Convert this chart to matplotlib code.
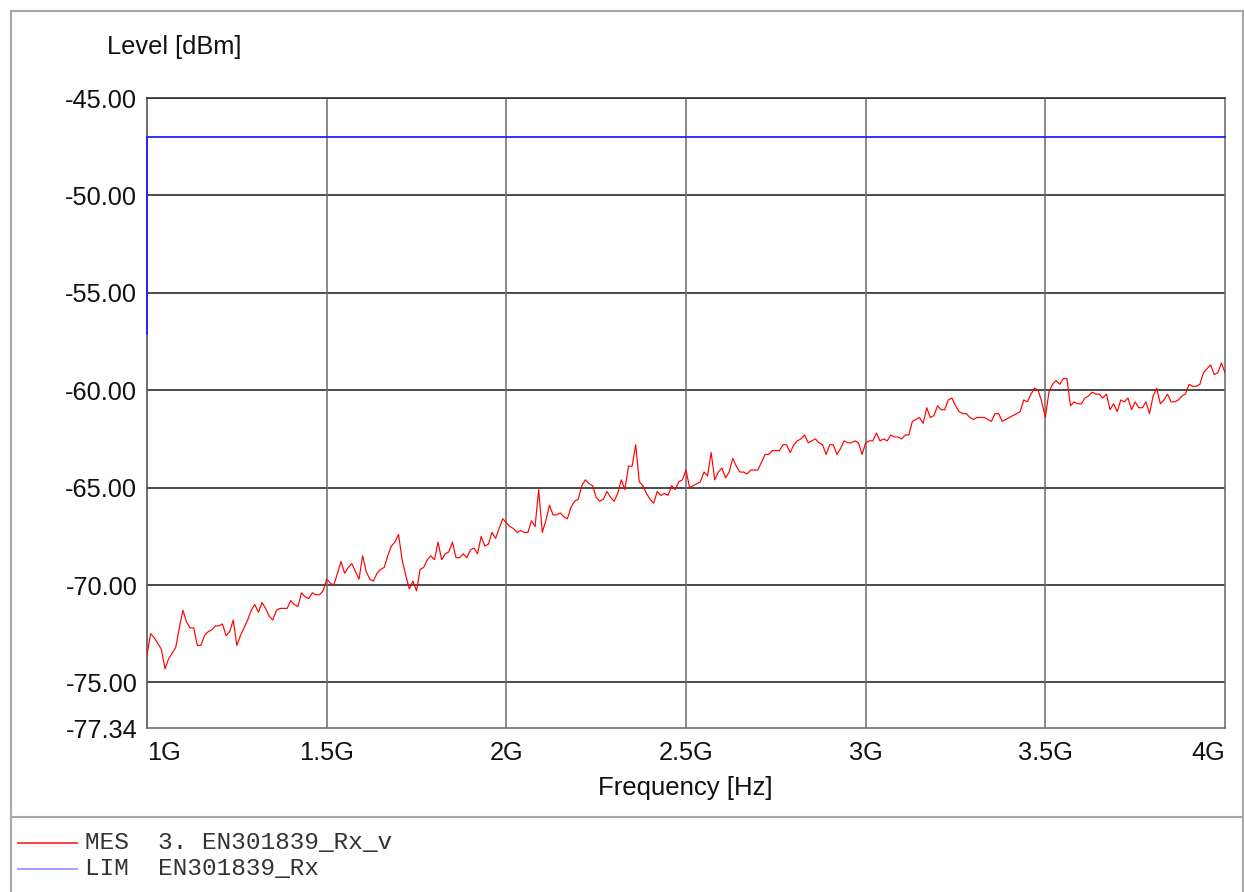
import matplotlib
matplotlib.use("Agg")
import matplotlib.pyplot as plt
import numpy as np
from matplotlib.lines import Line2D

# sweep: 1 GHz .. 4 GHz, 301 points (0.01 GHz step)
f_start_ghz = 1.0
f_stop_ghz = 4.0
n_points = 301

mes_level = [
    -73.6, -72.5, -72.7, -73.0, -73.3, -74.3, -73.8, -73.5, -73.2, -72.2,
    -71.3, -71.9, -72.2, -72.2, -73.1, -73.1, -72.6, -72.4, -72.3, -72.1,
    -72.1, -72.0, -72.6, -72.4, -71.8, -73.1, -72.6, -72.2, -71.8, -71.3,
    -71.0, -71.4, -70.9, -71.2, -71.6, -71.8, -71.3, -71.2, -71.2, -71.2,
    -70.8, -71.0, -71.1, -70.4, -70.6, -70.7, -70.4, -70.5, -70.5, -70.3,
    -69.7, -69.9, -70.0, -69.4, -68.8, -69.4, -69.1, -68.9, -69.3, -69.7,
    -68.5, -69.3, -69.7, -69.8, -69.4, -69.2, -69.1, -68.5, -68.0, -67.8,
    -67.4, -68.7, -69.5, -70.2, -69.8, -70.3, -69.2, -69.1, -68.7, -68.5,
    -68.7, -67.8, -68.7, -68.4, -68.3, -67.8, -68.6, -68.6, -68.4, -68.6,
    -68.2, -68.1, -68.4, -67.5, -68.0, -67.9, -67.3, -67.6, -67.1, -66.6,
    -66.8, -67.0, -67.1, -67.3, -67.2, -67.3, -67.3, -66.7, -67.0, -65.1,
    -67.3, -66.7, -65.9, -66.4, -66.4, -66.3, -66.5, -66.6, -66.0, -65.7,
    -65.6, -64.9, -64.6, -64.8, -64.9, -65.5, -65.7, -65.6, -65.2, -65.5,
    -65.7, -65.3, -64.6, -65.1, -63.9, -63.9, -62.8, -64.7, -64.9, -65.3,
    -65.6, -65.8, -65.2, -65.4, -65.3, -65.4, -64.9, -65.1, -64.7, -64.6,
    -64.1, -65.0, -64.9, -64.8, -64.7, -64.2, -64.4, -63.2, -64.6, -64.2,
    -64.0, -64.5, -64.2, -63.5, -63.9, -64.2, -64.2, -64.3, -64.1, -64.1,
    -64.1, -63.7, -63.3, -63.3, -63.1, -63.1, -63.1, -62.8, -62.8, -63.2,
    -62.8, -62.6, -62.5, -62.3, -62.7, -62.6, -62.5, -62.7, -62.8, -63.3,
    -62.8, -62.8, -63.3, -63.0, -62.6, -62.7, -62.7, -62.6, -62.7, -63.3,
    -62.7, -62.6, -62.6, -62.2, -62.6, -62.5, -62.6, -62.3, -62.4, -62.4,
    -62.5, -62.3, -62.3, -61.6, -61.5, -61.4, -61.7, -60.9, -61.4, -61.3,
    -60.8, -61.0, -61.0, -60.5, -60.4, -60.8, -61.1, -61.2, -61.2, -61.4,
    -61.5, -61.4, -61.4, -61.4, -61.5, -61.6, -61.2, -61.2, -61.6, -61.5,
    -61.4, -61.3, -61.2, -61.1, -60.5, -60.6, -60.2, -59.9, -60.0, -60.6,
    -61.4, -60.1, -59.7, -59.5, -59.7, -59.4, -59.4, -60.8, -60.6, -60.7,
    -60.7, -60.4, -60.3, -60.1, -60.2, -60.2, -60.4, -60.2, -61.0, -60.7,
    -61.1, -60.5, -60.6, -60.4, -61.0, -60.6, -60.9, -60.9, -60.6, -61.2,
    -60.3, -59.9, -60.7, -60.5, -60.2, -60.6, -60.6, -60.5, -60.3, -60.2,
    -59.7, -59.8, -59.8, -59.7, -59.1, -58.9, -58.7, -59.2, -59.1, -58.6,
    -59.1,
]

# limit line (LIM EN301839_Rx)
lim_freq_ghz = [1.0, 1.0, 4.0]
lim_level = [-57.1, -47.0, -47.0]

y_ticks = [-45.0, -50.0, -55.0, -60.0, -65.0, -70.0, -75.0, -77.34]
x_ticks_ghz = [1.0, 1.5, 2.0, 2.5, 3.0, 3.5, 4.0]
x_tick_labels = ['1G', '1.5G', '2G', '2.5G', '3G', '3.5G', '4G']

freq_hz = np.linspace(f_start_ghz, f_stop_ghz, n_points) * 1e9
lim_hz = np.array(lim_freq_ghz) * 1e9

plt.rcParams['font.family'] = ['Liberation Sans', 'DejaVu Sans']
W, H = 1244, 892
fig = plt.figure(figsize=(W / 100, H / 100), dpi=100)
ax = fig.add_axes([147 / W, 1 - 728 / H, 1078 / W, 630 / H])

ax.plot(freq_hz, mes_level, color='#ff0000', lw=0.85, zorder=3)
ax.plot(lim_hz, lim_level, color='#2020ff', lw=1.3, zorder=4, clip_on=False)

ax.set_xlim(1e9, 4e9)
ax.set_ylim(-77.34, -45.0)

# grid
for yv in y_ticks[:-1]:
    ax.axhline(yv, color='#1a1a1a', lw=1.1, zorder=1)
for xv in x_ticks_ghz[1:-1]:
    ax.axvline(xv * 1e9, color='#6a6a6a', lw=1.1, zorder=1)

ax.set_yticks(y_ticks)
ax.set_yticklabels(['%.2f' % v for v in y_ticks])
ax.set_xticks([v * 1e9 for v in x_ticks_ghz])
ax.set_xticklabels(x_tick_labels)
ax.tick_params(axis='both', length=0, labelsize=18.3, colors='#111111')
ax.tick_params(axis='y', pad=7)
ax.tick_params(axis='x', pad=9)
tl = ax.get_xticklabels()
tl[0].set_ha('left')
tl[-1].set_ha('right')

for s in ax.spines.values():
    s.set_color('#707070')
    s.set_linewidth(1.2)
    s.set_zorder(2)
ax.spines['top'].set_color('#333333')
ax.spines['left'].set_color('#555555')

fig.text(107 / W, 1 - 47 / H, 'Level [dBm]', ha='left', va='center',
         fontsize=18.3, color='#111111')
fig.text(685 / W, 1 - 788 / H, 'Frequency [Hz]', ha='center', va='center',
         fontsize=18.5, color='#111111')

# outer frame and legend separator
frame_col = '#a8a8a8'
fig.add_artist(Line2D([11 / W, 11 / W], [0, 1 - 11 / H], color=frame_col, lw=1.5))
fig.add_artist(Line2D([11 / W, 1243 / W], [1 - 11 / H, 1 - 11 / H], color=frame_col, lw=1.5))
fig.add_artist(Line2D([1243 / W, 1243 / W], [0, 1 - 11 / H], color=frame_col, lw=1.5))
fig.add_artist(Line2D([11 / W, 1243 / W], [1 - 817 / H, 1 - 817 / H], color=frame_col, lw=1.5))

# legend rows
fig.add_artist(Line2D([18 / W, 77 / W], [1 - 843 / H, 1 - 843 / H], color='#ff3030', lw=1.3))
fig.add_artist(Line2D([18 / W, 77 / W], [1 - 869 / H, 1 - 869 / H], color='#9a9aff', lw=1.3))
fig.text(85 / W, 1 - 843 / H, 'MES  3. EN301839_Rx_v', ha='left', va='center',
         fontsize=17.6, family='Liberation Mono', color='#333333')
fig.text(85 / W, 1 - 869 / H, 'LIM  EN301839_Rx', ha='left', va='center',
         fontsize=17.6, family='Liberation Mono', color='#333333')

fig.savefig('out.png', dpi=100)
